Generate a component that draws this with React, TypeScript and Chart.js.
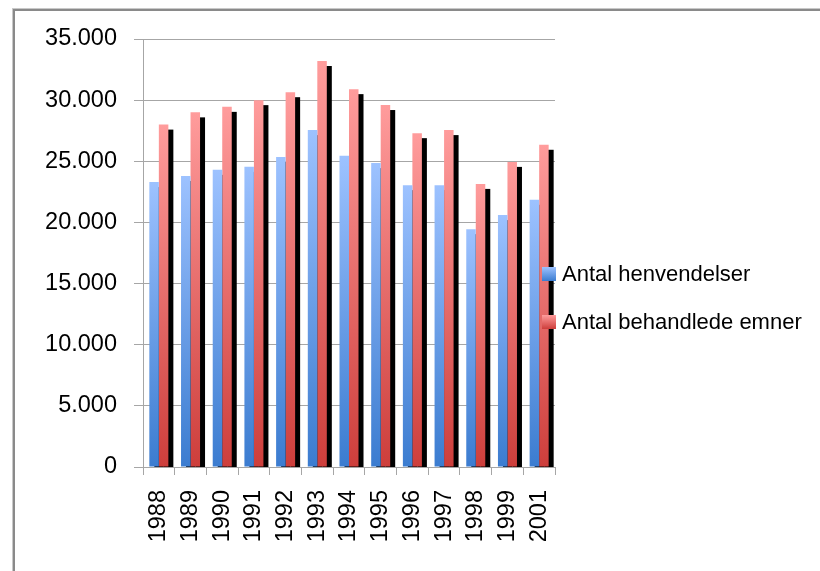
import React, { useEffect, useRef } from "react";
import { Chart, registerables } from "chart.js";

Chart.register(...registerables);

const categories = ["1988", "1989", "1990", "1991", "1992", "1993", "1994", "1995", "1996", "1997", "1998", "1999", "2001"];
const henvendelser = [23300, 23800, 24300, 24550, 25350, 27550, 25450, 24850, 23050, 23050, 19450, 20600, 21850];
const behandledeEmner = [28000, 29000, 29450, 30000, 30650, 33200, 30900, 29600, 27300, 27550, 23150, 24950, 26350];
const seriesNames = ["Antal henvendelser", "Antal behandlede emner"];
const yTicksMax = 35000;
const yTicksStep = 5000;

const BLUE = ["#9dc2ff", "#3b7cd0"];
const RED = ["#ff9c9c", "#cd3e3b"];
const FONT = "'Liberation Sans', Arial, sans-serif";

function fmt(v: number): string {
  return String(v).replace(/\B(?=(\d{3})+(?!\d))/g, ".");
}

function gradientFill(colors: string[]) {
  return (ctx: any) => {
    const chart = ctx.chart;
    const y = chart.scales && chart.scales.y;
    if (ctx.type !== "data" || !chart.chartArea || !y) return colors[1];
    const top = y.getPixelForValue(ctx.raw);
    const base = y.getPixelForValue(0);
    if (!isFinite(top) || !isFinite(base) || top === base) return colors[1];
    const g = chart.ctx.createLinearGradient(0, top, 0, base);
    g.addColorStop(0, colors[0]);
    g.addColorStop(1, colors[1]);
    return g;
  };
}

// Drop shadow (offset 5px right / 5px down) behind every bar, as in the original
const shadowPlugin = {
  id: "barShadow",
  beforeDatasetsDraw(chart: any) {
    const c = chart.ctx;
    const area = chart.chartArea;
    c.save();
    c.beginPath();
    c.rect(area.left, area.top - 10, area.right - area.left + 10, area.bottom - area.top + 10);
    c.clip();
    c.fillStyle = "#000000";
    chart.data.datasets.forEach((_ds: any, i: number) => {
      const meta = chart.getDatasetMeta(i);
      meta.data.forEach((el: any) => {
        const p = el.getProps(["x", "y", "base", "width"], true);
        const left = p.x - p.width / 2 + 5;
        const top = p.y + 5;
        c.fillRect(left, top, p.width, p.base - p.y);
      });
    });
    c.restore();
  },
};

const legendPlugin = {
  id: "sideLegend",
  afterDraw(chart: any) {
    const c = chart.ctx;
    const area = chart.chartArea;
    const x = area.right - 13;
    const y0 = 274;
    const gap = 48;
    const palettes = [BLUE, RED];
    c.save();
    chart.data.datasets.forEach((ds: any, i: number) => {
      const cy = y0 + i * gap;
      const g = c.createLinearGradient(0, cy - 7, 0, cy + 7);
      g.addColorStop(0, palettes[i][0]);
      g.addColorStop(1, palettes[i][1]);
      c.fillStyle = g;
      c.fillRect(x, cy - 7, 14, 14);
      c.fillStyle = "#000000";
      c.font = "22px " + FONT;
      c.textBaseline = "middle";
      c.textAlign = "left";
      c.fillText(ds.label, x + 20, cy + 1);
    });
    c.restore();
  },
};

export default function App() {
  const canvasRef = useRef<HTMLCanvasElement | null>(null);

  useEffect(() => {
    const canvas = canvasRef.current;
    if (!canvas) return;
    const chart = new Chart(canvas, {
      type: "bar",
      data: {
        labels: categories,
        datasets: [
          {
            label: seriesNames[0],
            data: henvendelser,
            backgroundColor: gradientFill(BLUE),
            borderWidth: 0,
          },
          {
            label: seriesNames[1],
            data: behandledeEmner,
            backgroundColor: gradientFill(RED),
            borderWidth: 0,
          },
        ],
      },
      options: {
        animation: false,
        responsive: false,
        events: [],
        layout: { padding: { left: 0, top: 39, right: 265, bottom: 0 } },
        datasets: { bar: { categoryPercentage: 0.6, barPercentage: 1 } },
        plugins: {
          legend: { display: false },
          tooltip: { enabled: false },
          title: { display: false },
        },
        scales: {
          x: {
            offset: true,
            grid: {
              display: true,
              drawOnChartArea: false,
              drawTicks: true,
              tickLength: 8,
              color: "#a6a6a6",
              offset: true,
            },
            border: { display: true, color: "#a6a6a6", width: 1 },
            ticks: {
              autoSkip: false,
              minRotation: 90,
              maxRotation: 90,
              padding: 15,
              color: "#000000",
              font: { family: FONT, size: 23.5 },
            },
            afterFit: (scale: any) => {
              scale.height = 104;
            },
          },
          y: {
            min: 0,
            max: yTicksMax,
            ticks: {
              stepSize: yTicksStep,
              padding: 17,
              color: "#000000",
              font: { family: FONT, size: 23.5 },
              callback: (v: any) => fmt(Number(v)),
            },
            grid: {
              color: "#a6a6a6",
              drawTicks: true,
              tickLength: 9,
            },
            border: { display: true, color: "#a6a6a6", width: 1 },
            afterFit: (scale: any) => {
              scale.width = 143;
            },
          },
        },
      },
      plugins: [shadowPlugin, legendPlugin],
    });
    return () => chart.destroy();
  }, []);

  return (
    <div style={{ position: "absolute", left: 0, top: 0, width: 820, height: 571, overflow: "hidden", background: "#ffffff" }}>
      <div
        style={{
          position: "absolute",
          left: 13,
          top: 9,
          width: 900,
          height: 700,
          borderLeft: "2px solid #8a8a8a",
          borderTop: "2px solid #8a8a8a",
          boxShadow: "-1px -1px 0 #c8c8c8",
        }}
      />
      <canvas ref={canvasRef} width={820} height={571} style={{ position: "absolute", left: 0, top: 0 }} />
    </div>
  );
}
